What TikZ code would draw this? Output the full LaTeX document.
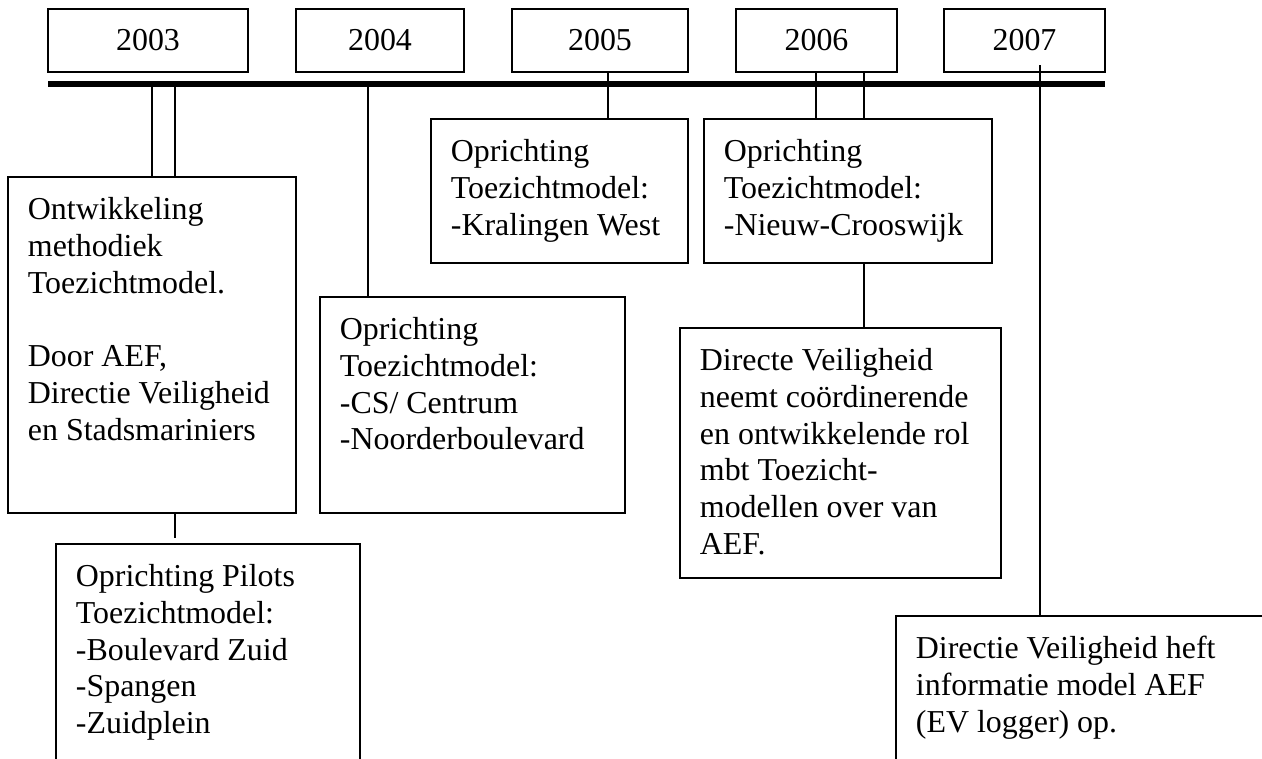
\documentclass[tikz,border=0pt]{standalone}
\usepackage{fontspec}
\setmainfont{Liberation Serif}
\usetikzlibrary{fit}

\tikzset{
	yearbox/.style={draw, line width=0.45pt, inner sep=0pt},
	eventbox/.style={draw, line width=0.45pt, inner sep=0pt},
	eventtext/.style={anchor=north west, inner sep=0pt, align=left},
	spine/.style={line width=2.15pt},
	tick/.style={line width=0.45pt}
}

\begin{document}
\begin{tikzpicture}[x=0.376pt, y=-0.376pt, font=\fontsize{12}{13.9}\selectfont]
	
	\path[use as bounding box] (0,0) rectangle (1262,758);
	\clip (0,0) rectangle (1262,758);
	
	% year boxes
	\foreach \yr/\xa/\xb in {2003/48/248, 2004/296/464, 2005/512/688, 2006/736/897, 2007/944/1105}
		\node[yearbox, fit={(\xa,9) (\xb,72)}, label={center:\yr}] (y\yr) {};
	
	% time line
	\coordinate (spineW) at (48,84);
	\coordinate (spineE) at (1105,84);
	
	\coordinate (k2003a) at (152,84);
	\coordinate (k2003b) at (175,84);
	\coordinate (k2004)  at (368,84);
	\coordinate (k2005)  at (608,84);
	\coordinate (k2006a) at (816,84);
	\coordinate (k2006b) at (864,84);
	\coordinate (k2007)  at (1040,65);
	
	% event boxes
	\node[eventbox, fit={(8,177) (296,513)}]   (b2003a) {};
	\node[eventbox, fit={(56,544) (360,800)}]  (b2003b) {};
	\node[eventbox, fit={(320,297) (625,513)}] (b2004)  {};
	\node[eventbox, fit={(431,119) (688,263)}] (b2005)  {};
	\node[eventbox, fit={(704,119) (992,263)}] (b2006a) {};
	\node[eventbox, fit={(680,328) (1001,578)}] (b2006b) {};
	\node[eventbox, fit={(896,616) (1300,800)}] (b2007)  {};
	
	% texts
	\node[eventtext] (t2003a) at ([shift={(20,20)}]b2003a.north west)
		{Ontwikkeling\\methodiek\\Toezichtmodel.\\[13.9pt]Door AEF,\\Directie Veiligheid\\en Stadsmariniers};
	\node[eventtext] (t2003b) at ([shift={(20,20)}]b2003b.north west)
		{Oprichting Pilots\\Toezichtmodel:\\-Boulevard Zuid\\-Spangen\\-Zuidplein};
	\node[eventtext] (t2004) at ([shift={(20,20)}]b2004.north west)
		{Oprichting\\Toezichtmodel:\\-CS/ Centrum\\-Noorderboulevard};
	\node[eventtext] (t2005) at ([shift={(20,20)}]b2005.north west)
		{Oprichting\\Toezichtmodel:\\-Kralingen West};
	\node[eventtext] (t2006a) at ([shift={(20,20)}]b2006a.north west)
		{Oprichting\\Toezichtmodel:\\-Nieuw-Crooswijk};
	\node[eventtext] (t2006b) at ([shift={(20,20)}]b2006b.north west)
		{Directe Veiligheid\\neemt coördinerende\\en ontwikkelende rol\\mbt Toezicht-\\modellen over van\\AEF.};
	\node[eventtext] (t2007) at ([shift={(20,20)}]b2007.north west)
		{Directie Veiligheid heft\\informatie model AEF\\(EV logger) op.};
	
	% ticks
	\draw[tick] (k2003a) -- (k2003a |- b2003a.north);
	\draw[tick] (k2003b) -- (k2003b |- b2003a.north);
	\draw[tick] (b2003a.south -| k2003b) -- ([yshift=2pt]b2003b.north -| k2003b);
	\draw[tick] (k2004) -- (k2004 |- b2004.north);
	\draw[tick] (y2005.south -| k2005) -- (b2005.north -| k2005);
	\draw[tick] (y2006.south -| k2006a) -- (b2006a.north -| k2006a);
	\draw[tick] (y2006.south -| k2006b) -- (b2006a.north -| k2006b);
	\draw[tick] (b2006a.south -| k2006b) -- (b2006b.north -| k2006b);
	\draw[tick] (k2007) -- (k2007 |- b2007.north);
	
	\draw[spine] (spineW) -- (spineE);
	
\end{tikzpicture}
\end{document}
